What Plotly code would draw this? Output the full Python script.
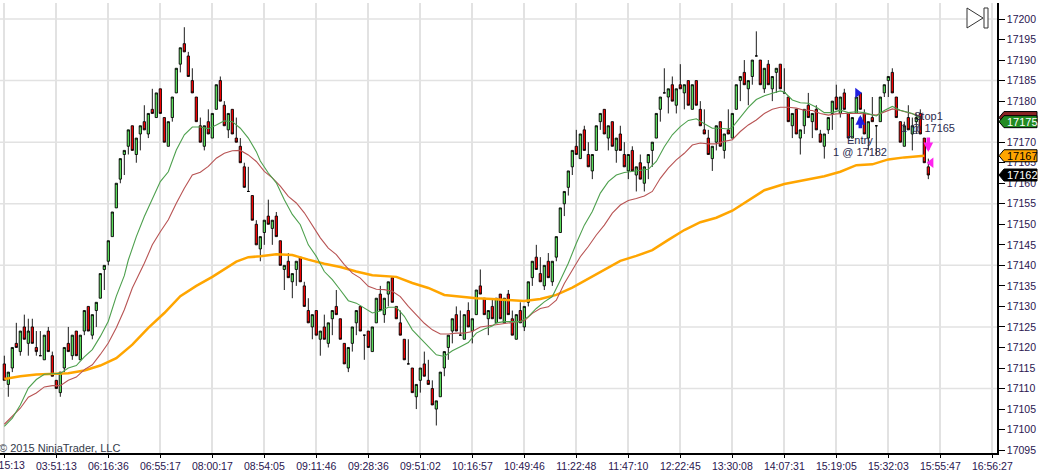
import pandas as pd
import plotly.graph_objects as go

# prices are kept as points above this base
BASE = 17000

opens = [116,111,115,121,119,125,121,125,120,118,
    117,124,118,112,109,115,121,118,124,117,
    124,130,123,129,132,139,141,147,154,161,
    167,169,174,167,172,175,172,178,176,183,
    176,169,176,182,189,194,191,185,181,174,
    169,175,171,178,185,179,173,178,171,169,
    164,158,157,150,144,148,152,149,152,146,
    139,141,136,139,142,135,129,125,129,122,
    125,121,127,130,127,121,115,121,126,130,
    123,124,119,126,133,128,133,137,130,126,
    122,116,115,108,112,116,112,110,105,108,
    115,120,124,128,123,122,129,124,128,135,
    132,127,130,126,133,126,133,127,122,129,
    125,131,137,142,138,135,141,136,142,148,
    155,159,164,169,166,173,167,163,168,175,
    178,171,175,168,172,167,163,168,162,165,
    160,165,168,171,178,182,181,184,179,184,
    182,185,178,185,178,173,171,166,170,175,
    168,173,171,178,185,187,183,186,191,190,
    183,189,183,187,189,182,181,174,178,171,
    174,179,175,178,172,169,173,177,181,177,
    182,177,171,177,182,177,171,176,174,175,
    182,185,187,181,175,169,176,172,175,177,
    171,164]

closes = [112,114,120,120,124,122,124,121,119,118,
    123,119,113,110,114,120,119,123,118,123,
    129,124,128,131,138,140,146,153,160,166,
    168,173,168,171,174,173,177,177,182,177,
    170,175,181,188,193,192,186,182,175,170,
    174,172,177,184,180,174,177,172,170,165,
    159,158,151,145,147,151,150,151,147,140,
    140,137,138,141,136,130,126,128,123,124,
    122,126,129,128,122,116,120,125,129,124,
    123,120,125,132,129,132,136,131,127,123,
    117,116,109,111,115,113,111,106,107,114,
    119,123,127,124,123,128,125,127,134,133,
    128,129,127,132,127,132,128,123,128,126,
    130,136,141,139,136,140,137,141,147,154,
    158,163,168,167,172,168,164,167,174,177,
    172,174,169,171,168,164,167,163,164,161,
    164,167,170,177,181,182,183,180,183,183,
    184,179,184,179,174,172,167,169,174,169,
    172,172,177,184,186,184,185,190,191,184,
    188,184,186,188,183,182,175,177,172,173,
    178,176,177,173,170,172,176,180,178,181,
    178,171,176,181,178,172,175,175,174,181,
    184,186,182,176,170,174,173,174,176,172,
    165,162]

highs = [118,114,120,126,124,128,127,127,124,124,
    123,125,119,112,114,120,125,123,124,123,
    129,130,128,131,138,140,146,153,160,166,
    168,173,174,171,174,179,177,183,182,183,
    176,175,181,188,193,198,192,188,181,176,
    174,178,177,184,186,180,177,178,176,171,
    165,164,157,151,147,151,156,151,153,146,
    140,143,138,141,142,136,132,128,129,124,
    128,126,129,134,127,121,120,125,129,130,
    123,124,125,132,135,132,136,137,130,129,
    122,122,115,111,115,119,117,112,107,114,
    119,123,127,130,129,128,131,127,134,139,
    132,129,132,132,133,132,134,129,128,131,
    130,136,141,145,142,140,143,141,147,154,
    158,163,168,173,172,174,170,167,174,177,
    178,174,175,171,174,170,167,169,164,167,
    164,167,170,177,181,188,183,186,183,189,
    184,185,184,185,180,178,173,169,174,175,
    172,178,177,184,186,190,185,190,197,190,
    188,190,186,188,189,188,181,177,178,173,
    178,182,177,179,173,172,176,180,184,181,
    183,177,176,181,182,178,175,181,174,181,
    184,186,188,181,175,175,179,176,177,178,
    171,166]

lows = [112,108,114,120,118,122,118,121,118,118,
    117,119,113,110,108,114,119,117,118,117,
    123,124,122,125,132,134,140,147,154,160,
    162,167,168,165,168,173,171,177,176,177,
    170,169,175,182,187,192,186,182,175,170,
    168,172,171,178,180,174,171,172,170,165,
    159,158,151,145,141,145,150,145,147,140,
    134,137,132,135,136,130,126,122,123,118,
    122,120,123,128,122,116,114,119,123,124,
    117,120,119,126,129,126,130,131,127,123,
    117,116,109,105,109,113,111,106,101,108,
    113,117,121,124,123,122,125,121,128,133,
    128,123,127,126,127,126,128,123,122,126,
    124,130,135,139,136,134,137,135,141,148,
    152,157,162,167,166,168,164,161,168,173,
    172,168,169,165,168,164,161,163,158,161,
    158,161,164,171,175,182,177,180,177,183,
    178,179,178,179,174,172,167,163,168,169,
    166,172,171,178,180,184,179,184,191,184,
    182,184,180,182,183,182,175,171,172,167,
    172,176,171,173,170,166,172,173,178,176,
    178,171,171,177,178,172,168,175,167,175,
    181,181,182,176,170,169,173,168,172,172,
    165,161]

# moving averages, read at every couple of bars
fast_x = [0,2,4,6,8,10,12,14,16,18,20,22,24,26,28,30,31,33,35,37,39,41,43,45,47,49,51,53,55,57,59,61,63,64,66,68,70,72,74,76,78,80,
    82,84,86,88,90,92,94,96,98,100,102,104,106,108,110,112,114,116,118,120,122,123,125,127,129,131,133,135,137,139,141,143,145,147,149,
    151,153,155,157,159,161,163,165,167,169,171,173,175,177,179,181,182,184,186,188,190,192,194,195,197,199,201,203,205,207,209,211,213,
    215,218,220,222,224,227,229]
fast_y = [100.8,102.8,106,110.1,112.2,113.5,113.6,113.7,115,115.6,117.7,119.5,122.7,126.4,132.5,137.5,141.3,147,151.9,156.3,160.4,162.8,168.1,171.8,173.7,173.7,173.3,174.2,175.2,175,173.4,171,167.7,165.4,162.5,160.1,156,152.4,149.9,145,142.2,138.5,
    136.5,134,131.4,130.8,129.6,128.4,128.9,129.8,129.8,127.6,124.3,122.3,120.2,118.2,117.8,119.2,120.2,121.2,123.5,124.5,125.2,126,126.3,126.3,126.3,127.5,129.5,131.1,132.4,136.4,140.5,145.4,149.8,153.1,157.6,
    160.4,162,162.6,162.9,163.1,163.4,165.3,168.9,171.8,173.8,175.3,175.7,174.5,173.4,173.4,173.2,173.6,176.2,178.5,180.4,181.3,181.9,182.5,182.2,180.3,179.6,179.5,178.5,177.2,177.2,177.8,177.2,177.4,
    177.2,176.4,177.7,178.7,177.8,177,175.8]

slow_x = [0,2,4,6,8,10,12,14,16,18,20,22,24,26,28,30,32,35,37,39,41,43,45,47,49,51,53,55,57,59,61,63,65,67,69,71,73,75,77,79,81,83,85,87,89,91,93,95,97,99,101,103,105,107,109,111,113,115,117,119,
    122,124,126,128,130,132,134,136,138,140,142,144,146,148,150,152,154,156,158,160,162,164,166,168,170,172,174,176,178,180,182,184,186,188,190,192,194,196,198,200,202,204,206,208,210,214,218,222,224,227,229]
slow_y = [101.3,103.2,105.2,107.9,108.9,110.4,110.7,110.7,112,112.8,114.6,115.8,118.3,121.1,124.8,129.2,134.5,140.5,145,148.2,151.1,155.1,158.8,162,162.7,164.1,166.1,167.3,167.9,168,166.9,165.3,162.9,161.3,159.3,156.8,155.2,152.8,149.9,146.7,144.2,142.6,140.2,138.1,136.9,134.9,134.2,134.1,133.7,132.4,130,127.9,125.9,124.3,123.3,123.3,123.5,123.5,123.9,125,
    125.4,125.7,126,126.3,126.5,128.3,129.5,129.9,131.5,135.6,138.9,142.1,144.6,147.4,149.8,152.7,154.7,155.8,156.3,156.9,158,161.2,163.7,165.7,167.3,169.3,169.8,169.6,169.6,170.2,170.6,172.6,174.2,175.4,177,178,178.5,178.5,178.3,177.8,177.7,177,176.6,176.9,177,177,176.6,178.1,177.7,176.9,176.4]

long_x = [0,4,8,12,16,20,24,28,32,36,40,44,48,52,56,58,61,64,68,72,76,80,84,88,92,96,98,102,106,110,114,118,122,126,130,134,138,142,146,150,154,158,162,166,170,174,178,182,186,190,195,200,205,209,213,217,221,225,230]
long_y = [112.3,113,113.4,113.5,113.7,114.4,115.6,117.4,120.7,124.8,128.4,132.5,135,137.2,139.7,140.9,142,142.2,142.7,142.5,141.4,140.4,139.6,138.5,137.6,137.3,137.2,135.7,134.5,132.8,132.4,132,131.8,131.5,131.3,131.8,132.8,134.6,136.7,138.9,141.1,142.3,143.7,146.2,148.6,150.5,151.6,153.3,155.9,158.3,159.8,160.8,161.7,162.8,164.4,164.6,165.8,166.3,166.7]

# one label every 13 bars
bars_per_label = 13
time_labels = ['03:15:13','03:51:13','06:16:36','06:55:17','08:00:17','08:54:05','09:11:46','09:28:36','09:51:02','10:16:57',
    '10:49:46','11:22:48','11:47:10','12:22:45','13:30:08','14:07:31','15:19:05','15:32:03','15:55:47','16:56:27']
price_ticks = list(range(17095, 17205, 5))
grid_prices = [17110, 17125, 17140, 17155, 17170, 17185, 17200]

entry_price = 17182
stop_price = 17165
tag_prices = [17176, 17175, 17166.7, 17162]
tag_texts = ['', '17175', '17167', '17162']
tag_fills = ['#8b2323', '#228b22', '#ffa500', '#000000']
tag_fonts = ['white', 'white', 'black', 'white']

TEXT = '#2a1650'
NOTE = '#2c2c50'
GRID = '#e2e2e2'

df = pd.DataFrame({'open': opens, 'high': highs, 'low': lows, 'close': closes}) + BASE
df['bar'] = df.index


def shift(values):
    return [v + BASE for v in values]


fig = go.Figure()

fig.add_trace(go.Candlestick(x=df.bar, open=df.open, high=df.high, low=df.low, close=df.close,
    increasing=dict(fillcolor='#5fe85f', line=dict(color='black', width=0.9)),
    decreasing=dict(fillcolor='#ff0000', line=dict(color='black', width=0.9)),
    hoverinfo='skip', showlegend=False))

fig.add_trace(go.Scatter(x=long_x, y=shift(long_y), mode='lines', line=dict(color='#ffa500', width=2.5), showlegend=False))
fig.add_trace(go.Scatter(x=slow_x, y=shift(slow_y), mode='lines', line=dict(color='#b85454', width=1.1), showlegend=False))
fig.add_trace(go.Scatter(x=fast_x, y=shift(fast_y), mode='lines', line=dict(color='#4ea04e', width=1.1), showlegend=False))

# order markers
fig.add_trace(go.Scatter(x=[213.3], y=[entry_price], mode='markers',
    marker=dict(symbol='triangle-right', size=9, color='#1f1fe0'), showlegend=False))
fig.add_trace(go.Scatter(x=[231.7], y=[stop_price], mode='markers',
    marker=dict(symbol='triangle-left', size=9, color='#ff22ee'), showlegend=False))

fig.add_annotation(x=214, y=17176.6, ax=214, ay=17173, axref='x', ayref='y', text='', showarrow=True,
    arrowhead=2, arrowsize=0.55, arrowwidth=3.5, arrowcolor='#1f1fe0')
fig.add_annotation(x=231, y=17167.6, ax=231, ay=17171.5, axref='x', ayref='y', text='', showarrow=True,
    arrowhead=2, arrowsize=0.55, arrowwidth=3.5, arrowcolor='#ff22ee')

# order texts
note_font = dict(family='Liberation Sans', size=11, color=NOTE)
for bar, price, txt in [(214, 17170.6, 'Entry'), (214, 17167.6, '1 @ 17182'),
                        (231, 17176.4, 'Stop1'), (231, 17173.5, '1 @ 17165')]:
    fig.add_annotation(x=bar, y=price, text=txt, showarrow=False, font=note_font, borderpad=0)

# horizontal grid is coarser than the price ticks
for level in grid_prices:
    fig.add_shape(type='line', xref='paper', x0=0, x1=1, y0=level, y1=level, layer='below',
        line=dict(color=GRID, width=1.5))

# price tags right of the axis
tag_path = 'M 2 0 L 7 6 L 40 6 L 40 -6 L 7 -6 Z'
for price, txt, fill, font_color in zip(tag_prices, tag_texts, tag_fills, tag_fonts):
    fig.add_shape(type='path', path=tag_path, xref='paper', xsizemode='pixel', xanchor=1,
        yref='y', ysizemode='pixel', yanchor=price, fillcolor=fill, line=dict(color='black', width=1))
    if txt:
        fig.add_annotation(xref='paper', x=1, xshift=9, xanchor='left', y=price, text=txt, showarrow=False,
            borderpad=0, font=dict(family='Liberation Sans', size=11, color=font_color))

# play-to-end button, top right
fig.add_shape(type='path', path='M -30 -10 L -30 10 L -14 0 Z', xref='paper', xsizemode='pixel', xanchor=1,
    yref='paper', ysizemode='pixel', yanchor=0.9667, fillcolor='white', line=dict(color='#333333', width=1))
fig.add_shape(type='path', path='M -13 -10 L -13 10 L -9 10 L -9 -10 Z', xref='paper', xsizemode='pixel', xanchor=1,
    yref='paper', ysizemode='pixel', yanchor=0.9667, fillcolor='white', line=dict(color='#333333', width=1))

fig.add_annotation(xref='paper', yref='paper', x=0, xshift=-2, xanchor='left', y=0.012, yanchor='middle',
    text='© 2015 NinjaTrader, LLC', showarrow=False, borderpad=0,
    font=dict(family='Liberation Sans', size=11, color='#333a4a'))

# plotly drops a tick label that runs past the page, the first one is cut off by the window
fig.add_annotation(x=0, xref='x', yref='paper', y=-0.0265, yanchor='middle', text=time_labels[0], showarrow=False,
    borderpad=0, font=dict(family='Liberation Sans', size=10.5, color=TEXT))

fig.update_layout(width=1043, height=472, margin=dict(l=0, r=46, t=3, b=17, pad=0),
    paper_bgcolor='white', plot_bgcolor='white', showlegend=False, hovermode=False,
    boxgap=0.25, boxgroupgap=0.25,
    font=dict(family='Liberation Sans', size=11, color=TEXT))

fig.update_xaxes(range=[-1.08, 248.17], rangeslider_visible=False,
    tickmode='array', tickvals=[bars_per_label * k for k in range(len(time_labels))], ticktext=[''] + time_labels[1:],
    ticks='outside', ticklen=3, tickwidth=1, tickcolor='black', tickangle=0,
    showgrid=True, gridcolor=GRID, gridwidth=1.5, zeroline=False,
    showline=True, linecolor='black', linewidth=1.5, tickfont=dict(size=10.5, color=TEXT))

fig.update_yaxes(range=[17094.3, 17203.9], side='right',
    tickmode='array', tickvals=price_ticks, ticktext=[str(p) for p in price_ticks],
    ticks='outside', ticklen=6, tickwidth=1, tickcolor='black',
    showgrid=False, zeroline=False,
    showline=True, linecolor='black', linewidth=1.5, tickfont=dict(size=10.5, color=TEXT))

# the page's default body margin would push the chart off the window
fig.write_html("out.html", config={'displayModeBar': False},
    post_script="document.body.style.margin='0';document.body.style.overflow='hidden';")
